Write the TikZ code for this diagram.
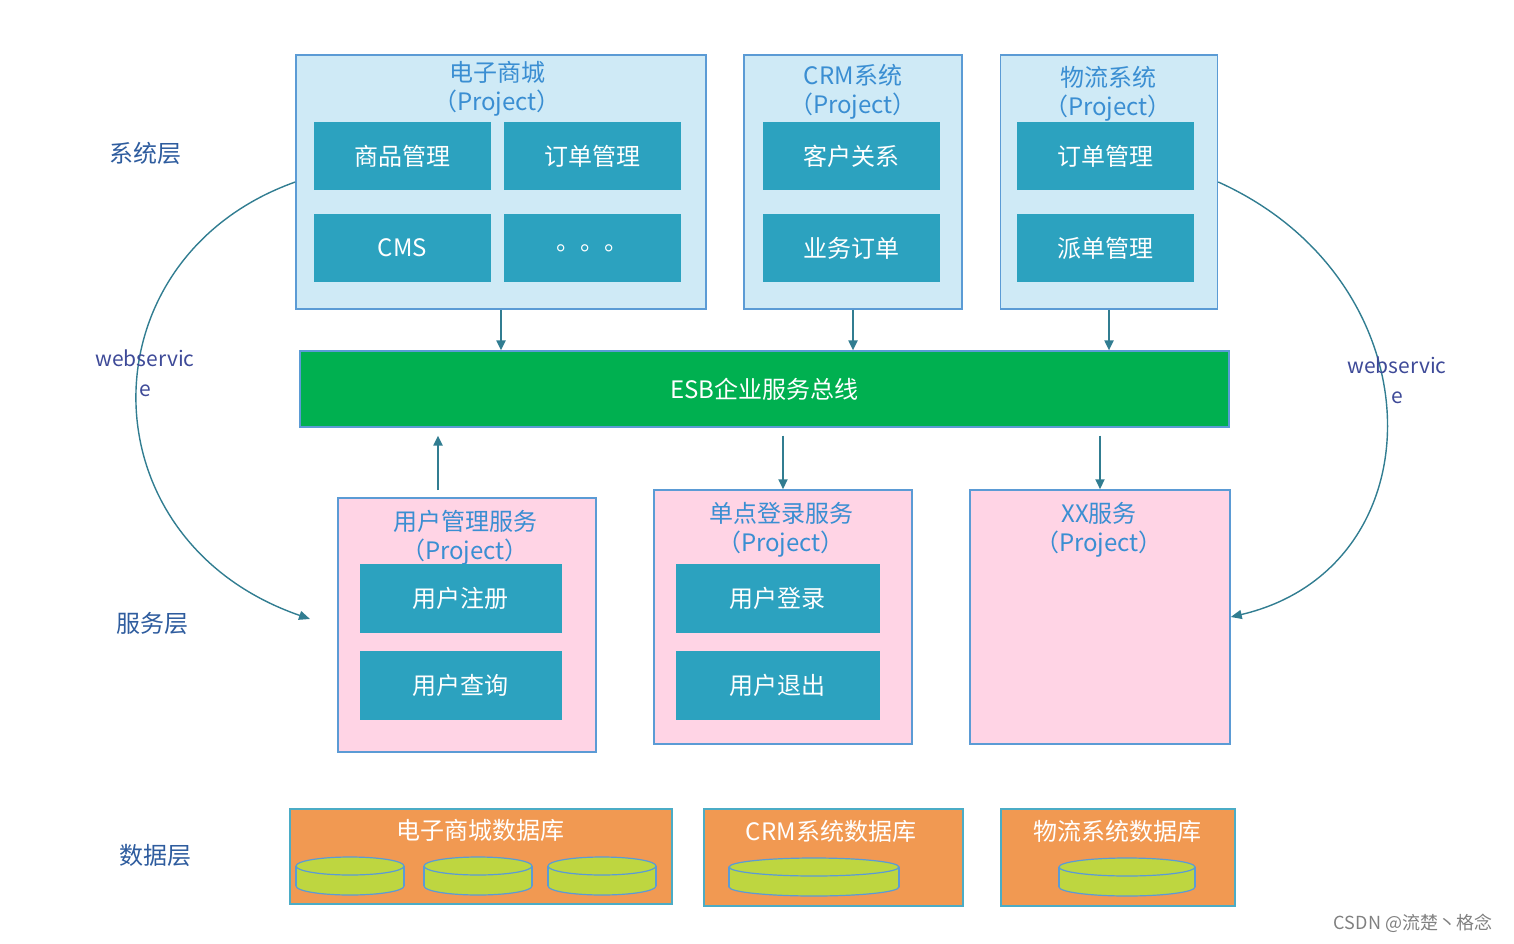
\documentclass[tikz,border=0pt]{standalone}
\usepackage{fontspec}
\setmainfont{Noto Sans CJK SC}
\usetikzlibrary{arrows.meta}

\definecolor{sysfill}{RGB}{207,234,246}
\definecolor{edgeblue}{RGB}{91,155,213}
\definecolor{modteal}{RGB}{44,162,191}
\definecolor{titleblue}{RGB}{58,142,210}
\definecolor{layerblue}{RGB}{46,92,158}
\definecolor{esbgreen}{RGB}{0,176,80}
\definecolor{srvpink}{RGB}{255,212,229}
\definecolor{dborange}{RGB}{241,153,82}
\definecolor{dbedge}{RGB}{75,172,198}
\definecolor{diskfill}{RGB}{190,214,64}
\definecolor{flowteal}{RGB}{49,125,145}

\begin{document}
\begin{tikzpicture}[x=1pt,y=-1pt,
  area/.style={draw=edgeblue, line width=1.5pt, inner sep=0pt},
  sysbox/.style={area, fill=sysfill, minimum height=254pt},
  srvbox/.style={area, fill=srvpink, minimum height=254pt},
  dbbox/.style={draw=dbedge, line width=1.5pt, fill=dborange, inner sep=0pt},
  modbox/.style={fill=modteal, text=white, inner sep=0pt, minimum width=177pt, minimum height=68pt,
    font=\fontsize{24}{28}\selectfont},
  srvmod/.style={modbox, minimum width=202pt, minimum height=69pt},
  titletext/.style={text=titleblue, align=center, font=\fontsize{24}{29}\selectfont},
  dbtitle/.style={text=white, font=\fontsize{24}{28}\selectfont},
  layerlabel/.style={text=layerblue, font=\fontsize{24}{28}\selectfont},
  wslabel/.style={text=layerblue!80!violet, align=center, font=\fontsize{21}{30}\selectfont},
  flow/.style={draw=flowteal, line width=2pt, -{Triangle[length=10pt,width=9pt]}},
  ws/.style={draw=flowteal, line width=1.4pt, -{Triangle[length=11pt,width=9pt]}},
  disk/.style={draw=edgeblue, line width=1.2pt, fill=diskfill}]

\useasboundingbox (0,0) rectangle (1514,944);

% layer labels
\node[layerlabel] (lsys) at (145,153) {系统层};
\node[layerlabel] (lsrv) at (152,623) {服务层};
\node[layerlabel] (ldb) at (155,855) {数据层};

% system layer
\node[sysbox, minimum width=410pt] (sys1) at (501,182) {};
\node[sysbox, minimum width=218pt] (sys2) at (853,182) {};
\node[sysbox, minimum width=217pt] (sys3) at (1109,182) {};
\node[titletext] (t1) at (497,89) {电子商城\\（Project）};
\node[titletext] (t2) at (853,92) {CRM系统\\（Project）};
\node[titletext] (t3) at (1108,94) {物流系统\\（Project）};

\node[modbox] (goods) at (402.5,156) {商品管理};
\node[modbox] (order) at (592.5,156) {订单管理};
\node[modbox] (cms) at (402.5,248) {CMS};
\node[modbox] (more) at (592.5,248) {。。。};
\node[modbox] (cust) at (851,156) {客户关系};
\node[modbox] (busi) at (851,248) {业务订单};
\node[modbox] (lorder) at (1105.5,156) {订单管理};
\node[modbox] (dispatch) at (1105.5,248) {派单管理};

% bus
\node[draw=edgeblue, line width=1.2pt, fill=esbgreen, text=white, inner sep=0pt,
  minimum width=929pt, minimum height=76pt, font=\fontsize{24}{28}\selectfont] (esb) at (764.5,389) {ESB企业服务总线};

% service layer
\node[srvbox, minimum width=258pt] (srv1) at (467,625) {};
\node[srvbox, minimum width=258pt] (srv2) at (783,617) {};
\node[srvbox, minimum width=260pt] (srv3) at (1100,617) {};
\node[titletext] (t4) at (465,538) {用户管理服务\\（Project）};
\node[titletext] (t5) at (781,530) {单点登录服务\\（Project）};
\node[titletext] (t6) at (1099,530) {XX服务\\（Project）};

\node[srvmod] (reg) at (460.5,598.5) {用户注册};
\node[srvmod] (query) at (460.5,685.5) {用户查询};
\node[srvmod, minimum width=204pt] (login) at (777.5,598.5) {用户登录};
\node[srvmod, minimum width=204pt] (logout) at (777.5,685.5) {用户退出};

% data layer
\node[dbbox, minimum width=382pt, minimum height=95pt] (db1) at (481,856.5) {};
\node[dbbox, minimum width=259pt, minimum height=97pt] (db2) at (833.5,857.5) {};
\node[dbbox, minimum width=234pt, minimum height=97pt] (db3) at (1118,857.5) {};
\node[dbtitle] (dt1) at (480,830) {电子商城数据库};
\node[dbtitle] (dt2) at (831,831) {CRM系统数据库};
\node[dbtitle] (dt3) at (1117,831) {物流系统数据库};

\foreach \cx/\rx/\ty in {350/54/866, 478/54/866, 602/54/866, 814/85/867, 1127/68/867} {
  \draw[disk] (\cx,\ty+20) ellipse [x radius=\rx, y radius=9];
  \fill[diskfill] (\cx-\rx,\ty) rectangle (\cx+\rx,\ty+20);
  \draw[edgeblue, line width=1.2pt] (\cx-\rx,\ty) -- (\cx-\rx,\ty+20) (\cx+\rx,\ty) -- (\cx+\rx,\ty+20);
  \draw[disk] (\cx,\ty) ellipse [x radius=\rx, y radius=9];
}

% connectors
\foreach \s in {sys1,sys2,sys3}
  \draw[flow] (\s.south) -- (\s.south |- esb.north);
\coordinate (up1) at (438,490);
\draw[flow] (up1) -- ([yshift=-8pt]up1 |- esb.south);
\foreach \s in {srv2,srv3}
  \draw[flow] ([yshift=-8pt]\s.north |- esb.south) -- (\s.north);

\coordinate (wsl) at (310,619);
\draw[ws] (sys1.west) .. controls (82,258) and (82,540) .. (wsl);
\draw[ws] (sys3.east) .. controls (1440,282) and (1440,568) .. (srv3.east);
\node[wslabel] (wsa) at (145,373) {webservic\\e};
\node[wslabel] (wsb) at (1397,380) {webservic\\e};

\node[text=gray, font=\fontsize{18}{22}\selectfont] (mark) at (1413,923) {CSDN @流楚丶格念};
\end{tikzpicture}
\end{document}
